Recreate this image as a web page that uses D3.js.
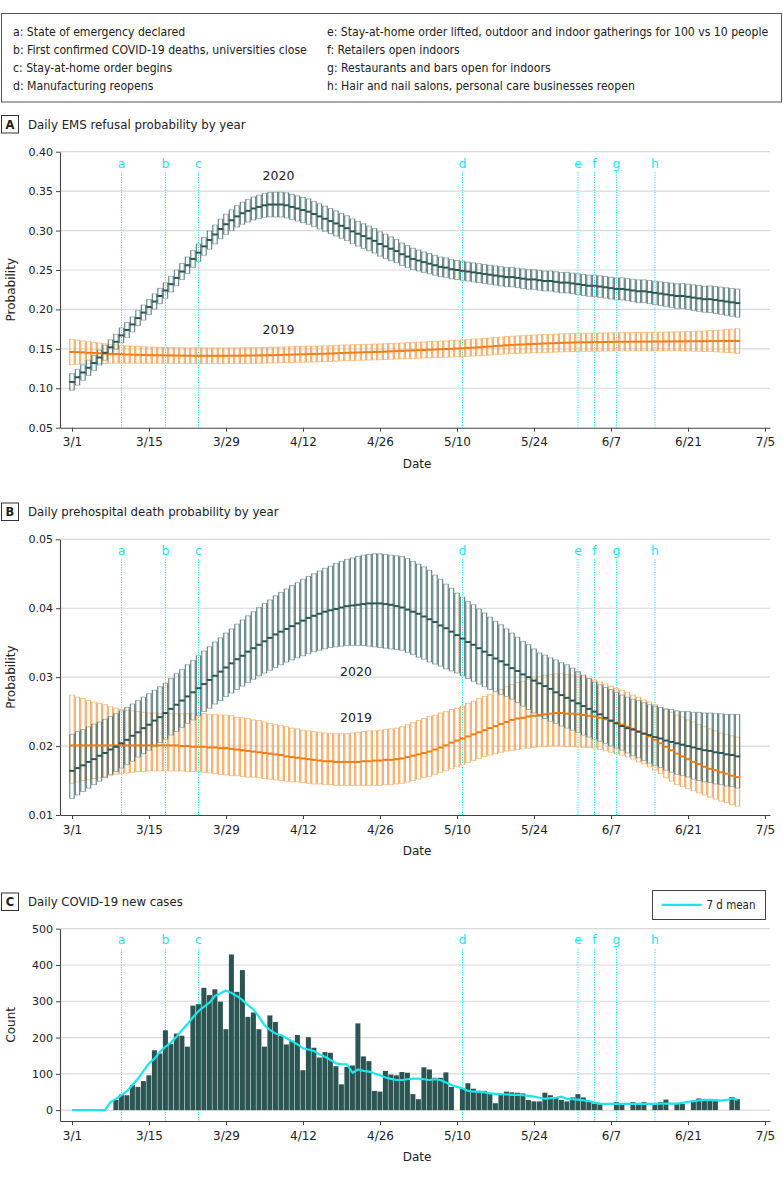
<!DOCTYPE html>
<html><head><meta charset="utf-8">
<script src="https://cdn.jsdelivr.net/npm/d3@7"></script>
<style>body{margin:0;background:#fff}</style>
</head><body>
<svg id="c" width="783" height="1177"></svg>
<script>
// ---------- data ----------
const tickDays = [0,14,28,42,56,70,84,98,112,126];
const tickLabels = ["3/1","3/15","3/29","4/12","4/26","5/10","5/24","6/7","6/21","7/5"];
const eventDays = [9,17,23,71,92,95,99,106];
const eventLabels = ["a","b","c","d","e","f","g","h"];
const eventNotes = [
 "a: State of emergency declared",
 "b: First confirmed COVID-19 deaths, universities close",
 "c: Stay-at-home order begins",
 "d: Manufacturing reopens",
 "e: Stay-at-home order lifted, outdoor and indoor gatherings for 100 vs 10 people",
 "f: Retailers open indoors",
 "g: Restaurants and bars open for indoors",
 "h: Hair and nail salons, personal care businesses reopen"];
const panelTitles = ["Daily EMS refusal probability by year","Daily prehospital death probability by year","Daily COVID-19 new cases"];
const seriesNames = ["2020","2019"];

const emsMean2020 = [.108,.114,.120,.126,.132,.139,.145,.152,.159,.167,
.174,.181,.189,.196,.203,.210,.217,.224,.232,.240,
.248,.256,.264,.272,.280,.288,.295,.302,.308,.313,
.318,.322,.325,.328,.330,.332,.333,.333,.333,.332,
.330,.328,.326,.324,.321,.318,.315,.312,.309,.306,
.303,.299,.296,.293,.290,.287,.283,.280,.277,.274,
.270,.267,.264,.262,.260,.258,.256,.254,.253,.251,
.250,.249,.248,.247,.246,.245,.244,.243,.242,.241,
.241,.240,.239,.238,.238,.237,.236,.236,.235,.234,
.234,.233,.232,.231,.230,.230,.229,.228,.227,.226,
.226,.225,.224,.223,.223,.222,.221,.220,.219,.218,
.217,.217,.216,.215,.214,.213,.213,.212,.211,.210,
.209,.208];
const emsHalf2020 = [.0105,.010,.0098,.0097,.0096,.0095,.0095,.0095,.0095,.0095,
.0095,.0095,.0095,.0096,.0096,.0097,.0097,.0098,.0099,.0100,
.0102,.0105,.0108,.0110,.0113,.0116,.0120,.0124,.0128,.0132,
.0136,.0140,.0143,.0146,.0149,.0152,.0155,.0157,.0158,.0159,
.016,.016,.016,.016,.016,.016,.016,.0159,.0159,.0158,
.0158,.0157,.0157,.0156,.0156,.0155,.0155,.0154,.0150,.0146,
.0142,.0139,.0136,.0133,.0130,.0128,.0126,.0124,.0123,.0122,
.0121,.0120,.0120,.0120,.0120,.0120,.0121,.0121,.0122,.0122,
.0123,.0123,.0124,.0124,.0125,.0126,.0126,.0127,.0128,.0129,
.0130,.0131,.0132,.0133,.0134,.0135,.0136,.0137,.0138,.0139,
.0140,.0141,.0142,.0144,.0145,.0147,.0148,.0150,.0152,.0154,
.0156,.0158,.0160,.0162,.0164,.0166,.0168,.0170,.0172,.0174,
.0176,.0178];
const emsMean2019 = [.146,.1458,.1455,.145,.1447,.1444,.144,.1437,.1434,.1431,
.1428,.1426,.1424,.1422,.142,.1419,.1418,.1417,.1416,.1415,
.1414,.1413,.1413,.1412,.1412,.1412,.1412,.1412,.1412,.1413,
.1413,.1414,.1415,.1416,.1417,.1418,.142,.1421,.1423,.1425,
.1427,.1429,.1431,.1433,.1435,.1437,.1438,.1441,.1444,.1447,
.145,.1452,.1454,.1456,.1458,.146,.1462,.1465,.1468,.1471,
.1474,.1477,.148,.1483,.1486,.1489,.1492,.1495,.1498,.1501,
.1504,.1508,.1512,.1516,.152,.1525,.153,.1535,.154,.1545,
.155,.1553,.1556,.1559,.1562,.1565,.1568,.157,.1573,.1576,
.1578,.158,.1582,.1583,.1584,.1585,.1586,.1587,.1588,.1589,
.159,.159,.1591,.1591,.1592,.1592,.1593,.1593,.1594,.1594,
.1595,.1595,.1596,.1596,.1597,.1597,.1598,.1598,.1599,.1599,
.16,.16];
const emsHalf2019 = [.016,.0153,.0146,.014,.0135,.013,.0125,.012,.0116,.0113,
.011,.0108,.0106,.0104,.0103,.0102,.0101,.01,.01,.01,
.01,.01,.01,.01,.01,.01,.01,.01,.01,.01,
.01,.01,.01,.01,.01,.01,.01,.01,.01,.01,
.01,.01,.01,.01,.01,.01,.01,.01,.01,.01,
.01,.01,.01,.01,.01,.01,.01,.01,.01,.01,
.01,.0101,.0101,.0102,.0102,.0103,.0103,.0104,.0104,.0105,
.0105,.0106,.0106,.0107,.0107,.0108,.0108,.0109,.0109,.011,
.011,.0111,.0111,.0112,.0112,.0113,.0113,.0114,.0114,.0115,
.0115,.0115,.0115,.0115,.0115,.0115,.0115,.0115,.0115,.0115,
.0115,.0116,.0116,.0117,.0117,.0118,.0118,.0119,.0119,.012,
.012,.0122,.0124,.0126,.0128,.013,.0133,.0136,.014,.0144,
.0149,.0155];

const deathMean2020 = [.0164,.0168,.0172,.0177,.0181,.0186,.0190,.0195,.0199,.0204,
.0209,.0215,.0220,.0226,.0231,.0237,.0242,.0248,.0254,.0260,
.0266,.0272,.0278,.0284,.0290,.0296,.0302,.0308,.0314,.0320,
.0326,.0331,.0337,.0342,.0347,.0352,.0357,.0362,.0366,.0370,
.0374,.0378,.0382,.0386,.0389,.0392,.0395,.0397,.0399,.0401,
.0403,.0404,.0405,.0406,.0407,.0407,.0407,.0406,.0405,.0403,
.0401,.0398,.0395,.0392,.0388,.0384,.0380,.0375,.0371,.0366,
.0361,.0356,.0351,.0347,.0342,.0337,.0332,.0327,.0323,.0318,
.0313,.0309,.0304,.0300,.0295,.0291,.0287,.0283,.0278,.0274,
.0270,.0266,.0262,.0258,.0254,.0250,.0246,.0241,.0237,.0233,
.0229,.0226,.0224,.0221,.0218,.0216,.0213,.0211,.0208,.0206,
.0204,.0202,.0200,.0198,.0196,.0194,.0193,.0191,.0190,.0188,
.0187,.0185];
const deathHi2020 = [.0217,.0221,.0224,.0228,.0232,.0235,.0239,.0243,.0247,.0251,
.0256,.0261,.0266,.0271,.0276,.0281,.0286,.0291,.0298,.0305,
.0311,.0318,.0324,.0331,.0338,.0344,.0351,.0357,.0364,.0370,
.0377,.0383,.0389,.0395,.0401,.0407,.0412,.0418,.0423,.0428,
.0433,.0437,.0442,.0446,.0450,.0454,.0458,.0461,.0465,.0468,
.0471,.0473,.0475,.0477,.0478,.0479,.0479,.0478,.0477,.0476,
.0475,.0472,.0468,.0464,.0460,.0455,.0448,.0442,.0435,.0429,
.0422,.0416,.0410,.0405,.0399,.0393,.0387,.0381,.0376,.0370,
.0364,.0358,.0352,.0347,.0341,.0335,.0332,.0328,.0325,.0321,
.0318,.0313,.0308,.0303,.0298,.0293,.0289,.0285,.0282,.0278,
.0274,.0271,.0268,.0266,.0263,.0260,.0258,.0256,.0254,.0253,
.0251,.0250,.0250,.0249,.0249,.0248,.0248,.0247,.0247,.0246,
.0246,.0246];
const deathLo2020 = [.0124,.0129,.0134,.0139,.0144,.0149,.0154,.0159,.0163,.0168,
.0173,.0178,.0184,.0189,.0194,.0199,.0205,.0210,.0216,.0221,
.0227,.0233,.0238,.0244,.0250,.0255,.0261,.0266,.0272,.0277,
.0282,.0287,.0292,.0297,.0302,.0306,.0310,.0314,.0318,.0322,
.0325,.0328,.0331,.0334,.0337,.0339,.0341,.0343,.0344,.0345,
.0346,.0346,.0346,.0346,.0345,.0344,.0343,.0342,.0341,.0340,
.0339,.0336,.0333,.0329,.0326,.0322,.0319,.0316,.0312,.0309,
.0306,.0302,.0298,.0294,.0290,.0286,.0282,.0279,.0275,.0272,
.0268,.0263,.0258,.0253,.0248,.0243,.0240,.0236,.0233,.0229,
.0226,.0223,.0220,.0216,.0213,.0210,.0207,.0204,.0200,.0197,
.0194,.0190,.0186,.0183,.0179,.0175,.0172,.0169,.0165,.0162,
.0159,.0157,.0155,.0152,.0150,.0148,.0147,.0145,.0144,.0142,
.0141,.0139];
const deathMean2019 = [.0201,.0201,.0201,.0201,.0201,.0201,.0201,.0201,.0201,.0201,
.0201,.0201,.0201,.0201,.0201,.0201,.0201,.0201,.0201,.0201,
.0200,.0200,.0199,.0199,.0199,.0198,.0198,.0197,.0197,.0196,
.0195,.0194,.0193,.0192,.0191,.0190,.0189,.0188,.0187,.0185,
.0184,.0183,.0182,.0181,.0180,.0179,.0178,.0178,.0177,.0177,
.0177,.0177,.0177,.0178,.0178,.0179,.0179,.0180,.0180,.0181,
.0182,.0184,.0186,.0188,.0190,.0192,.0195,.0198,.0201,.0205,
.0208,.0211,.0214,.0217,.0220,.0223,.0226,.0229,.0232,.0235,
.0238,.0240,.0241,.0243,.0244,.0245,.0246,.0247,.0248,.0248,
.0247,.0247,.0246,.0245,.0244,.0243,.0241,.0239,.0236,.0234,
.0231,.0228,.0225,.0221,.0218,.0214,.0209,.0204,.0199,.0194,
.0189,.0185,.0181,.0177,.0174,.0170,.0167,.0165,.0162,.0160,
.0157,.0155];
const deathHi2019 = [.0274,.0271,.0269,.0266,.0264,.0262,.0260,.0257,.0255,.0253,
.0252,.0251,.0250,.0249,.0248,.0248,.0247,.0247,.0247,.0247,
.0247,.0247,.0247,.0247,.0247,.0246,.0246,.0245,.0245,.0244,
.0242,.0241,.0240,.0238,.0237,.0235,.0233,.0231,.0230,.0228,
.0226,.0225,.0223,.0222,.0221,.0220,.0219,.0218,.0218,.0218,
.0218,.0219,.0220,.0221,.0222,.0222,.0223,.0224,.0225,.0226,
.0228,.0231,.0234,.0237,.0240,.0243,.0245,.0248,.0250,.0253,
.0255,.0258,.0262,.0265,.0269,.0272,.0275,.0279,.0282,.0286,
.0289,.0292,.0294,.0297,.0299,.0301,.0303,.0304,.0305,.0305,
.0304,.0303,.0301,.0300,.0298,.0296,.0293,.0290,.0287,.0284,
.0281,.0278,.0274,.0271,.0267,.0264,.0260,.0256,.0253,.0249,
.0245,.0242,.0238,.0235,.0231,.0228,.0225,.0222,.0219,.0217,
.0215,.0213];
const deathLo2019 = [.0146,.0148,.0150,.0151,.0153,.0154,.0156,.0157,.0159,.0160,
.0161,.0162,.0163,.0163,.0164,.0164,.0164,.0164,.0164,.0164,
.0164,.0163,.0163,.0163,.0162,.0161,.0160,.0159,.0158,.0157,
.0157,.0156,.0155,.0155,.0154,.0153,.0152,.0151,.0150,.0149,
.0148,.0148,.0147,.0146,.0145,.0145,.0144,.0144,.0143,.0143,
.0143,.0143,.0143,.0143,.0143,.0143,.0143,.0144,.0144,.0145,
.0146,.0148,.0150,.0152,.0154,.0156,.0159,.0162,.0164,.0167,
.0170,.0173,.0176,.0179,.0182,.0185,.0187,.0189,.0191,.0193,
.0194,.0195,.0196,.0197,.0198,.0199,.0199,.0200,.0200,.0200,
.0199,.0199,.0199,.0198,.0198,.0197,.0195,.0193,.0191,.0189,
.0187,.0184,.0181,.0177,.0174,.0170,.0165,.0160,.0154,.0149,
.0144,.0141,.0138,.0135,.0132,.0129,.0126,.0123,.0120,.0118,
.0115,.0113];

const newCases = [0,0,0,0,0,0,0,0,28,43,
41,69,64,80,96,165,156,220,182,211,
205,175,288,292,337,317,333,299,223,429,
326,386,257,269,223,175,261,243,205,181,
191,207,110,201,172,145,160,158,121,71,
119,123,239,148,135,53,51,108,98,96,
105,103,44,30,118,112,89,89,104,64,
0,61,74,59,53,53,46,19,44,51,
49,48,46,28,24,24,48,41,35,28,
24,35,44,35,22,18,16,0,0,22,
16,0,22,16,22,0,18,22,29,0,
17,17,0,24,32,30,26,29,0,0,
36,30];
const casesMean7d = [0,0,0,0,0,0,0,22,31,41,
53,69,87,108,129,142,161,175,186,202,
221,237,256,273,285,296,315,322,330,323,
314,303,289,277,257,234,221,211,207,198,
190,181,170,167,163,153,147,138,129,127,
126,103,112,108,106,101,96,90,86,83,
83,85,87,87,85,83,85,83,76,69,
64,60,53,51,51,49,46,45,44,43,
42,42,41,39,37,34,31,33,34,37,
31,30,29,27,25,21,18,17,17,17,
17,17,17,17,17,17,17,18,18,18,
18,20,23,25,27,28,28,27,26,28,
32,29];

// ---------- setup ----------
const FONT = "'DejaVu Sans',sans-serif";
const FONTC = "'Liberation Sans Narrow','DejaVu Sans Condensed',sans-serif";
const TEAL = "#2b5553", TEAL_V = "#4b7170", TEAL_H = "#a3b9b8";
const ORG = "#f47b0f", ORG_V = "#f6a04e", ORG_H = "#f9c895";
const CYAN = "#19e6ee", GRID = "#d9d9d9", AXIS = "#444", TXT = "#222";

const svg = d3.select("#c");
const x = d3.scaleLinear().domain([-12/5.5, 698/5.5]).range([60, 770]);
const days = d3.range(emsMean2020.length);

// fit a text selection's font size so that a reference text has the wanted width
function fitSize(sel, refNode, wanted, base){
  const w = refNode.getComputedTextLength();
  const s = base * wanted / w;
  sel.attr("font-size", s);
}

// top legend box
svg.append("rect").attr("x",1.5).attr("y",13.5).attr("width",780).attr("height",88.5)
  .attr("fill","none").attr("stroke","#555").attr("stroke-width",1);
const notes = svg.append("g").selectAll("text").data(eventNotes).join("text")
  .attr("x",(d,i)=> i<4 ? 13 : 327)
  .attr("y",(d,i)=> 36 + (i%4)*18)
  .attr("font-family",FONTC).attr("font-size",12).attr("fill",TXT)
  .text(d=>d);
fitSize(notes, notes.nodes()[4], 442, 12);

function panel(cfg){
  const g = svg.append("g");
  const y = cfg.y;
  const [yb, yt] = y.range();
  // title
  g.append("rect").attr("x",1.5).attr("y",cfg.titleY-13).attr("width",17).attr("height",17.5)
    .attr("fill","none").attr("stroke","#333").attr("stroke-width",1);
  g.append("text").attr("x",10).attr("y",cfg.titleY).attr("text-anchor","middle")
    .attr("font-family",FONT).attr("font-weight","bold").attr("font-size",11.5).attr("fill",TXT).text(cfg.letter);
  const tt = g.append("text").attr("x",28).attr("y",cfg.titleY).attr("font-family",FONTC).attr("font-size",14)
    .attr("fill",TXT).text(cfg.title);
  fitSize(tt, tt.node(), cfg.titleW, 14);
  // grid
  g.append("g").selectAll("line").data(cfg.grid).join("line")
    .attr("x1",60).attr("x2",770).attr("y1",d=>y(d)).attr("y2",d=>y(d))
    .attr("stroke",GRID).attr("stroke-width",1.2);
  // event lines
  const ev = g.append("g");
  ev.selectAll("line").data(eventDays).join("line")
    .attr("x1",d=>x(d)).attr("x2",d=>x(d)).attr("y1",cfg.evTop).attr("y2",yb)
    .attr("stroke",CYAN).attr("stroke-width",1).attr("stroke-dasharray","1.2,1.3");
  ev.selectAll("text").data(eventDays).join("text")
    .attr("x",d=>x(d)).attr("y",cfg.evLabelY).attr("text-anchor","middle")
    .attr("font-family",FONT).attr("font-size",12.5).attr("fill",CYAN)
    .text((d,i)=>eventLabels[i]);
  cfg.marks(g, y);
  // axes
  const ya = g.append("g").attr("transform","translate(60,0)")
    .call(d3.axisLeft(y).tickValues(cfg.ticks).tickFormat(cfg.fmt).tickSize(4).tickSizeOuter(0).tickPadding(3));
  const xa = g.append("g").attr("transform",`translate(0,${yb})`)
    .call(d3.axisBottom(x).tickValues(tickDays).tickFormat((d,i)=>tickLabels[i]).tickSize(4).tickSizeOuter(0).tickPadding(6));
  [ya,xa].forEach(a=>{
    a.select(".domain").attr("stroke",AXIS).attr("stroke-width",1.1);
    a.selectAll(".tick line").attr("stroke",AXIS);
    a.selectAll("text").attr("font-family",FONT).attr("fill",TXT);
  });
  ya.selectAll("text").attr("font-size",11);
  xa.selectAll("text").attr("font-size",12);
  g.append("text").attr("x",417).attr("y",yb+40).attr("text-anchor","middle")
    .attr("font-family",FONT).attr("font-size",12).attr("fill",TXT).text("Date");
  g.append("text").attr("transform",`translate(15,${(yb+yt)/2}) rotate(-90)`).attr("text-anchor","middle")
    .attr("font-family",FONT).attr("font-size",12).attr("fill",TXT).text(cfg.ytitle);
}

function boxes(g, y, lo, hi, vCol, hCol){
  const gg = g.append("g");
  days.forEach(d=>{
    const x0 = x(d)-2.2, x1 = x(d)+2.2, yt = y(hi[d]), yb2 = y(lo[d]);
    gg.append("line").attr("x1",x0-0.5).attr("x2",x1+0.5).attr("y1",yt).attr("y2",yt).attr("stroke",hCol).attr("stroke-width",1);
    gg.append("line").attr("x1",x0-0.5).attr("x2",x1+0.5).attr("y1",yb2).attr("y2",yb2).attr("stroke",hCol).attr("stroke-width",1);
    gg.append("line").attr("x1",x0).attr("x2",x0).attr("y1",yt).attr("y2",yb2).attr("stroke",vCol).attr("stroke-width",1);
    gg.append("line").attr("x1",x1).attr("x2",x1).attr("y1",yt).attr("y2",yb2).attr("stroke",vCol).attr("stroke-width",1);
  });
}
function means(g, y, m, col){
  g.append("g").selectAll("line").data(days).join("line")
    .attr("x1",d=>x(d)-2.75).attr("x2",d=>x(d)+2.75)
    .attr("y1",d=>y(m[d])).attr("y2",d=>y(m[d]))
    .attr("stroke",col).attr("stroke-width",2);
}
function seriesLabel(g, xx, yy, t){
  g.append("text").attr("x",xx).attr("y",yy).attr("text-anchor","middle")
    .attr("font-family",FONT).attr("font-size",12.5).attr("fill",TXT).text(t);
}

// Panel A
panel({
  letter:"A", title:panelTitles[0], titleY:128.5, titleW:218,
  y: d3.scaleLinear().domain([0.05,0.40]).range([427.7,151.7]),
  ticks:[0.05,0.10,0.15,0.20,0.25,0.30,0.35,0.40], grid:[0.10,0.15,0.20,0.25,0.30,0.35,0.40],
  fmt:d3.format(".2f"), ytitle:"Probability", evTop:172, evLabelY:167.7,
  marks:(g,y)=>{
    const lo19 = emsMean2019.map((m,i)=>m-emsHalf2019[i]), hi19 = emsMean2019.map((m,i)=>m+emsHalf2019[i]);
    const lo20 = emsMean2020.map((m,i)=>m-emsHalf2020[i]), hi20 = emsMean2020.map((m,i)=>m+emsHalf2020[i]);
    boxes(g,y,lo19,hi19,ORG_V,ORG_H);
    boxes(g,y,lo20,hi20,TEAL_V,TEAL_H);
    means(g,y,emsMean2019,ORG);
    means(g,y,emsMean2020,TEAL);
    seriesLabel(g,278.5,179.5,seriesNames[0]);
    seriesLabel(g,278.5,333.5,seriesNames[1]);
  }
});

// Panel B
panel({
  letter:"B", title:panelTitles[1], titleY:516, titleW:251,
  y: d3.scaleLinear().domain([0.01,0.05]).range([815,539.3]),
  ticks:[0.01,0.02,0.03,0.04,0.05], grid:[0.02,0.03,0.04,0.05],
  fmt:d3.format(".2f"), ytitle:"Probability", evTop:559.3, evLabelY:555,
  marks:(g,y)=>{
    boxes(g,y,deathLo2019,deathHi2019,ORG_V,ORG_H);
    boxes(g,y,deathLo2020,deathHi2020,TEAL_V,TEAL_H);
    means(g,y,deathMean2019,ORG);
    means(g,y,deathMean2020,TEAL);
    seriesLabel(g,356,676,seriesNames[0]);
    seriesLabel(g,356,722,seriesNames[1]);
  }
});

// Panel C
panel({
  letter:"C", title:panelTitles[2], titleY:906, titleW:155,
  y: d3.scaleLinear().domain([-30,500]).range([1121,928.7]),
  ticks:[0,100,200,300,400,500], grid:[0,100,200,300,400,500],
  fmt:d3.format("d"), ytitle:"Count", evTop:949.3, evLabelY:943.5,
  marks:(g,y)=>{
    g.append("g").selectAll("rect").data(days.filter(d=>newCases[d]>0)).join("rect")
      .attr("x",d=>x(d)-2.6).attr("width",5)
      .attr("y",d=>y(newCases[d])).attr("height",d=>y(0)-y(newCases[d]))
      .attr("fill",TEAL);
    g.append("path").datum(days)
      .attr("d",d3.line().x(d=>x(d)).y(d=>y(casesMean7d[d])))
      .attr("fill","none").attr("stroke",CYAN).attr("stroke-width",2.2).attr("stroke-linejoin","round");
    // legend
    g.append("rect").attr("x",652.5).attr("y",890.5).attr("width",113).attr("height",29)
      .attr("fill","#fff").attr("stroke","#444").attr("stroke-width",1);
    g.append("line").attr("x1",661.7).attr("x2",701.7).attr("y1",904.8).attr("y2",904.8)
      .attr("stroke",CYAN).attr("stroke-width",2.2);
    const lt = g.append("text").attr("x",706.5).attr("y",909.3).attr("font-family",FONTC).attr("font-size",12.5)
      .attr("fill",TXT).text("7 d mean");
    fitSize(lt, lt.node(), 49, 12.5);
  }
});
</script>
</body></html>
